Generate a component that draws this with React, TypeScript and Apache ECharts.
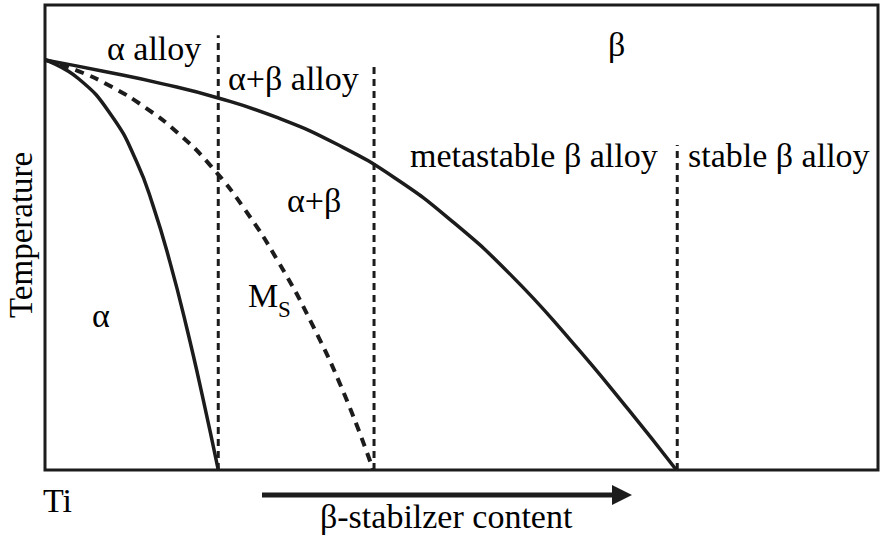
import React, { useEffect, useRef } from "react";
import * as echarts from "echarts";

// Beta transus (upper solid curve): [beta-stabilizer content, temperature]
const betaTransusX = [0, 7, 14, 21, 28, 35, 42, 49, 56, 63, 70, 75.8];
const betaTransusY = [88.2, 85.75, 83.1, 79.9, 75.7, 70.1, 62.8, 53.3, 41.8, 28.1, 13.1, 0];
// Alpha transus (left solid curve)
const alphaTransusX = [0, 4, 8, 11, 13, 15, 17, 19, 20.8];
const alphaTransusY = [88.2, 84.2, 76.2, 66.3, 56.7, 44.7, 30.7, 15.1, 0];
// Martensite start (dashed curve)
const msX = [0, 4, 8, 12, 16, 20, 24, 28, 32, 36, 39.4];
const msY = [88.2, 85.8, 82.4, 78.0, 72.4, 65.2, 56.0, 44.8, 31.6, 16.0, 0];
// Alloy-class dividers (dotted verticals)
const dividerX = [20.8, 39.5, 75.9];
const dividerTop = [93.5, 87.7, 69.9];

const zip = (xs: number[], ys: number[]) => xs.map((x, i) => [x, ys[i]]);

const INK = "#1c1c1c";

const txt = (text: string, x: number, y: number, size = 34, rotation = 0) => ({
  type: "text",
  x,
  y,
  rotation,
  style: {
    text,
    fontFamily: "Times New Roman",
    fontSize: size,
    fontWeight: "normal",
    fill: "#000",
  },
});

export default function App() {
  const ref = useRef<HTMLDivElement>(null);
  useEffect(() => {
    document.body.style.margin = "0";
    const chart = echarts.init(ref.current!, null, { renderer: "svg" });
    const dividerSeries = dividerX.map((x, i) => ({
      type: "line",
      data: [
        [x, 0],
        [x, dividerTop[i]],
      ],
      symbol: "none",
      lineStyle: { color: INK, width: 3, type: [7, 5] },
      silent: true,
    }));
    chart.setOption({
      animation: false,
      textStyle: { fontFamily: "Times New Roman" },
      grid: {
        left: 45,
        right: 2,
        top: 5,
        bottom: 68,
        show: true,
        borderColor: INK,
        borderWidth: 3,
      },
      xAxis: { type: "value", min: 0, max: 100, show: false },
      yAxis: { type: "value", min: 0, max: 100, show: false },
      series: [
        ...dividerSeries,
        {
          type: "line",
          data: zip(msX, msY),
          symbol: "none",
          smooth: true,
          lineStyle: { color: INK, width: 4, type: [9, 7] },
          silent: true,
        },
        {
          type: "line",
          data: zip(alphaTransusX, alphaTransusY),
          symbol: "none",
          smooth: true,
          lineStyle: { color: INK, width: 3.5 },
          silent: true,
        },
        {
          type: "line",
          data: zip(betaTransusX, betaTransusY),
          symbol: "none",
          smooth: true,
          lineStyle: { color: INK, width: 3.5 },
          silent: true,
        },
      ],
      graphic: [
        txt("α alloy", 107, 31),
        txt("α+β alloy", 228, 61),
        txt("β", 608, 27),
        txt("metastable β alloy", 410, 138),
        txt("stable β alloy", 688, 138),
        txt("α+β", 287, 183),
        txt("M", 248, 278),
        txt("S", 278, 298, 23),
        txt("α", 92, 298),
        txt("Temperature", 4, 318, 33, Math.PI / 2),
        txt("Ti", 43, 483),
        txt("β-stabilzer content", 320, 499),
        {
          type: "line",
          shape: { x1: 262, y1: 495, x2: 615, y2: 495 },
          style: { stroke: INK, lineWidth: 5 },
        },
        {
          type: "polygon",
          shape: {
            points: [
              [612, 485],
              [632, 495],
              [612, 505],
            ],
          },
          style: { fill: INK },
        },
      ],
    });
    return () => chart.dispose();
  }, []);
  return (
    <div
      ref={ref}
      style={{ position: "absolute", left: 0, top: 0, width: 880, height: 538 }}
    />
  );
}
